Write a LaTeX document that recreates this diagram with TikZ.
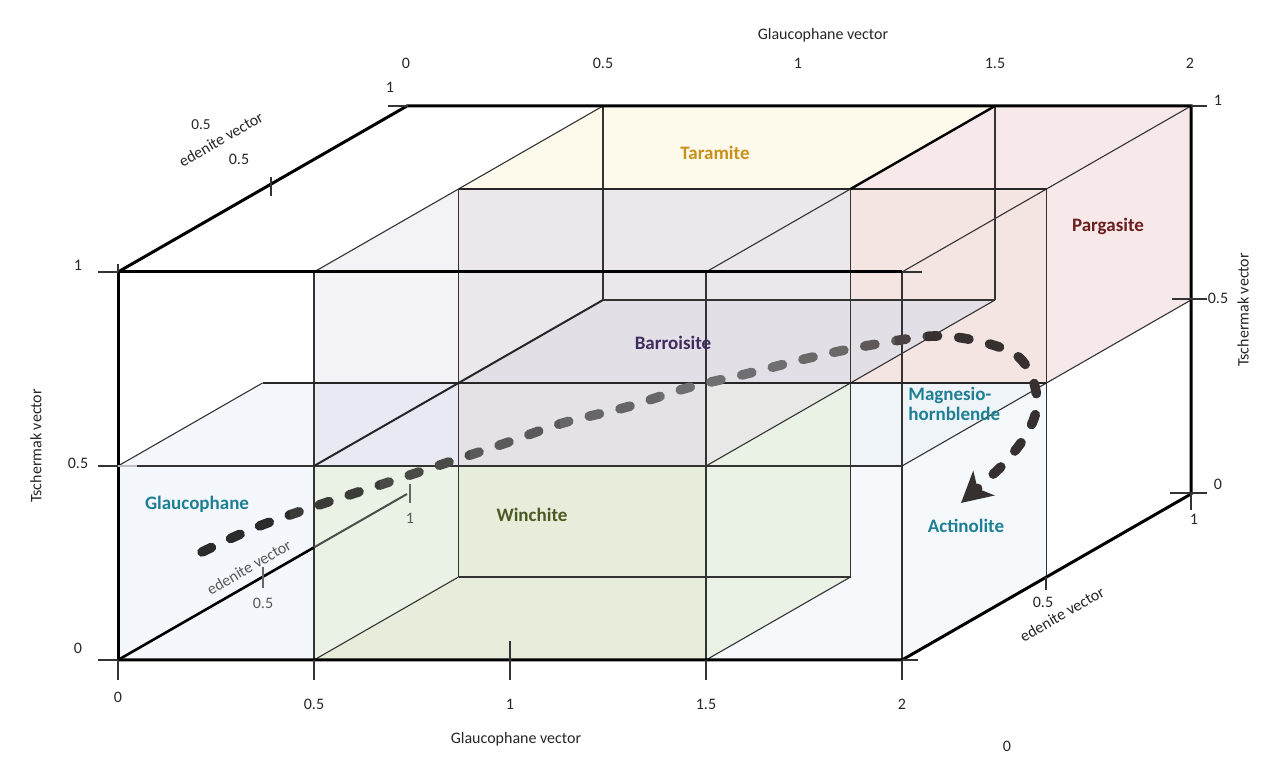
\documentclass[tikz,border=0pt]{standalone}
\usepackage{fontspec}
\setmainfont{Carlito}
\usepackage{tikz}
\usetikzlibrary{calc,arrows.meta}

\definecolor{pargB}{HTML}{F7E9E9}
\definecolor{pargA}{HTML}{F5E5E2}
\definecolor{taraCream}{HTML}{FDF9EB}
\definecolor{barrLight}{HTML}{F3F2F6}
\definecolor{barrMid}{HTML}{EBE7EB}
\definecolor{barrDark}{HTML}{E3DFE7}
\definecolor{actiBlue}{HTML}{F5F9FC}
\definecolor{mghbBlue}{HTML}{EEF4F8}
\definecolor{winLight}{HTML}{EAF1E5}
\definecolor{greyGreen}{HTML}{E8E9E6}
\definecolor{glauBlue}{HTML}{F4F8FC}
\definecolor{lavBlue}{HTML}{E9E9F3}
\definecolor{greyLav}{HTML}{E4E2E5}
\definecolor{winGreen}{HTML}{E6EDDA}
\definecolor{taraText}{HTML}{C8921A}
\definecolor{pargText}{HTML}{6A1E1E}
\definecolor{barrText}{HTML}{3F2B5E}
\definecolor{tealText}{HTML}{1E7F94}
\definecolor{winText}{HTML}{4B5A22}

\tikzset{
  cube/.style={shift={(118,116)},x={(196pt,0pt)},y={(0pt,194pt)},z={(144.5pt,83pt)}},
  thickedge/.style={line width=1.5pt,black},
  midedge/.style={line width=1pt,black!85},
  thinedge/.style={line width=0.55pt,black!80},
  ticklbl/.style={font=\fontsize{8}{9}\selectfont,text=black!85,inner sep=1pt},
  mineral/.style={font=\fontsize{9.5}{10}\selectfont\bfseries},
  trail/.style={line width=4.8pt,line cap=round,dash pattern=on 5.2pt off 10.6pt}
}

\begin{document}
\begin{tikzpicture}[x=0.5pt,y=0.5pt]
		%%%%% START %%%%%
		\useasboundingbox (0,0) rectangle (1280,776);

		\begin{scope}[cube]
			% tinted faces
			\fill[pargB] (1.5,1,.5) -- (1.5,1,1) -- (2,1,1) -- (2,.5,1) -- (2,.5,.5) -- (1.5,.5,.5) -- cycle;
			\fill[pargA] (1.5,.5,.5) rectangle (2,1,.5);
			\fill[taraCream] (.5,1,.5) -- (.5,1,1) -- (1.5,1,1) -- (1.5,1,.5) -- cycle;
			\fill[barrLight] (.5,.5,0) -- (.5,1,0) -- (.5,1,.5) -- (1.5,1,.5) -- (1.5,.5,.5) -- (1.5,.5,0) -- cycle;
			\fill[barrMid] (.5,.5,.5) rectangle (1.5,1,.5);
			\fill[barrDark] (.5,.5,.5) -- (.5,.5,1) -- (1.5,.5,1) -- (1.5,.5,.5) -- cycle;
			\fill[actiBlue] (1.5,0,0) -- (1.5,.5,0) -- (1.5,.5,.5) -- (2,.5,.5) -- (2,0,.5) -- (2,0,0) -- cycle;
			\fill[mghbBlue] (1.5,.5,0) -- (1.5,.5,.5) -- (2,.5,.5) -- (2,.5,0) -- cycle;
			\fill[winLight] (1.5,.5,0) -- (1.5,.5,.5) -- (1.5,0,.5) -- (1.5,0,0) -- cycle;
			\fill[greyGreen] (1.5,.5,0) -- (1.5,.5,.5) -- (1.5,.7139,0) -- cycle;
			\fill[glauBlue] (0,0,0) -- (0,.5,0) -- (0,.5,.5) -- (.5,.5,.5) -- (.5,.5,0) -- (.5,0,0) -- cycle;
			\fill[lavBlue] (.5,.5,0) rectangle (.5,.5,.5);
			\fill[greyLav] (.5,.5,.5) rectangle (1.5,.5,0);
			\fill[winGreen] (.5,0,0) rectangle (1.5,.5,0);
			\fill[winLight] (.5,.5,0) -- (.5,.2861,.5) -- (.5,0,.5) -- (.5,0,0) -- cycle;

			% inner edges
			\draw[thinedge] (0,.5,0) -- (2,.5,0);
			\draw[thinedge] (.5,0,.5) -- (1.5,0,.5);
			\draw[thinedge] (.5,.5,1) -- (1.5,.5,1);
			\draw[thinedge] (0,.5,0) -- (0,.5,.5);
			\foreach \gx in {.5,1.5,2} {
				\draw[thinedge] (\gx,0,0) -- (\gx,1,0);
				\draw[thinedge] (\gx,0,.5) -- (\gx,1,.5);
			}
			\foreach \gx in {.5,1.5} \draw[thinedge] (\gx,.5,1) -- (\gx,1,1);
			\draw[thinedge] (.5,0,0) -- (.5,0,.5);
			\draw[thinedge] (1.5,0,0) -- (1.5,0,.5);
			\draw[thinedge] (1.5,.5,0) -- (1.5,.5,1);
			\draw[thinedge] (2,.5,0) -- (2,.5,1);
			\draw[thinedge] (.5,1,0) -- (.5,1,1);
			\draw[thinedge] (1.5,1,0) -- (1.5,1,.5);
			\draw[thinedge] (2,1,0) -- (2,1,1);
			\draw[midedge] (.5,1,.5) -- (2,1,.5);
			\draw[midedge] (0,.5,.5) -- (2,.5,.5);
			\draw[midedge] (.5,.5,0) -- (.5,.5,1);
			\draw[thickedge,line width=1.2pt] (1.5,1,.5) -- (1.5,1,1);

			% edenite axis inside the box
			\draw[line width=1.3pt] (0,0,0) -- (0,0,.678);
			\draw[line width=1pt,black!70] (0,0,.678) -- (0,0,1);

			% outer frame
			\draw[thickedge] (0,0,0) -- (0,1,0) -- (2,1,0);
			\draw[thickedge] (0,0,0) -- (2,0,0) -- (2,0,1) -- (2,1,1) -- (0,1,1) -- (0,1,0);
		\end{scope}

		% ticks
		\foreach \ty in {116,310,504} \draw[thinedge] (98,\ty) -- (118,\ty);
		\foreach \tx in {118,314,706,902} \draw[thinedge] (\tx,116) -- (\tx,96);
		\draw[thinedge] (510,135) -- (510,96);
		\draw[thinedge] (902,116) -- (918,116);
		\draw[thinedge] (902,504) -- (922,504);
		\draw[thinedge] (118,504) -- (118,512);
		\draw[gray!50,line width=1pt] (118,310) -- (137,310);
		\draw[thinedge] (388,670) -- (408,670);
		\draw[thinedge] (1191,670) -- (1207,670);
		\draw[thinedge] (1172,477) -- (1207,477);
		\draw[thinedge] (1170,283) -- (1207,283);
		\draw[thinedge] (1191,283) -- (1191,266);
		\draw[thinedge] (1046,199) -- (1046,186);
		\draw[thinedge] (271,580) -- (271,599);
		\draw[thinedge,black!60] (263,188) -- (263,209);
		\draw[thinedge,black!60] (410,273) -- (410,292);

		% axis labels
		\node[ticklbl] (gtitletop) at (823,741) {Glaucophane vector};
		\foreach \tx/\tl [count=\i] in {406/0,603/0.5,798/1,995/1.5,1190/2}
			\node[ticklbl] (gtop\i) at (\tx,713) {\tl};
		\node[ticklbl] (gtitlebot) at (516,37) {Glaucophane vector};
		\foreach \tx/\tl [count=\i] in {314/0.5,510/1,706/1.5,902/2}
			\node[ticklbl] (gbot\i) at (\tx,72) {\tl};
		\node[ticklbl] (gbot0) at (118,79) {0};
		\node[ticklbl] (stray) at (1007,30) {0};

		\node[ticklbl] (tleft0) at (78,128) {0};
		\node[ticklbl] (tleft1) at (78,313) {0.5};
		\node[ticklbl] (tleft2) at (78,511) {1};
		\node[ticklbl,rotate=90] (ttitleleft) at (36,330) {Tschermak vector};
		\node[ticklbl] (tright0) at (1218,292) {0};
		\node[ticklbl] (tright1) at (1218,478) {0.5};
		\node[ticklbl] (tright2) at (1218,676) {1};
		\node[ticklbl,rotate=90] (ttitleright) at (1243,466) {Tschermak vector};

		\node[ticklbl] (etop1) at (390,689) {1};
		\node[ticklbl,font=\fontsize{7.6}{8}\selectfont] (etopa) at (201,651) {0.5};
		\node[ticklbl,rotate=29.9,inner sep=0pt] (etitletop) at (221,637) {edenite vector};
		\node[ticklbl] (etopb) at (239,617) {0.5};
		\node[ticklbl] (eright1) at (1194,257) {1};
		\node[ticklbl] (eright05) at (1043,174) {0.5};
		\node[ticklbl,rotate=29.9,inner sep=0pt] (etitleright) at (1062,162) {edenite vector};
		\node[ticklbl,text=black!65,rotate=29.9,inner sep=0pt] (etitlein) at (249,209) {edenite vector};
		\node[ticklbl,text=black!65] (ein05) at (263,173) {0.5};
		\node[ticklbl,text=black!65] (ein1) at (410,258) {1};

		% mineral fields
		\node[mineral,text=taraText] (taramite) at (715,623) {Taramite};
		\node[mineral,text=pargText] (pargasite) at (1108,550) {Pargasite};
		\node[mineral,text=barrText] (barroisite) at (673,433) {Barroisite};
		\node[mineral,text=tealText] (glaucophane) at (197,272) {Glaucophane};
		\node[mineral,text=winText] (winchite) at (532,261) {Winchite};
		\node[mineral,text=tealText,anchor=west,align=left,inner sep=0pt] (mghb) at (908,372) {Magnesio-\\hornblende};
		\node[mineral,text=tealText] (actinolite) at (966,250) {Actinolite};

		% trend path, darker at both ends
		\coordinate (trailstart) at (202,224);
		\coordinate (trailend) at (961,273);
		\foreach \xa/\xb/\col in {0/290/2B2B2B,290/380/3B3C37,380/470/4A4B46,470/560/5A5A5A,560/660/666668,660/800/6F6F71,800/860/6C6868,860/895/5E5858,895/925/4A4242,925/1280/363030} {
			\definecolor{trailcol}{HTML}{\col}
			\begin{scope}
				\clip (\xa,0) rectangle (\xb,776);
				\draw[trail,trailcol,-{Stealth[length=15pt,width=16pt,inset=4pt]}] plot[smooth,tension=0.6] coordinates {(trailstart) (257,249) (322,272) (383,292) (443,312) (503,332) (563,353) (627,369) (687,388) (750,403) (813,419) (877,432) (942,440) (1002,428) (1027,409) (1037,376) (1030,348) (1010,319) (988,297) (trailend)};
			\end{scope}
		}
		%%%%% END %%%%%
\end{tikzpicture}
\end{document}
